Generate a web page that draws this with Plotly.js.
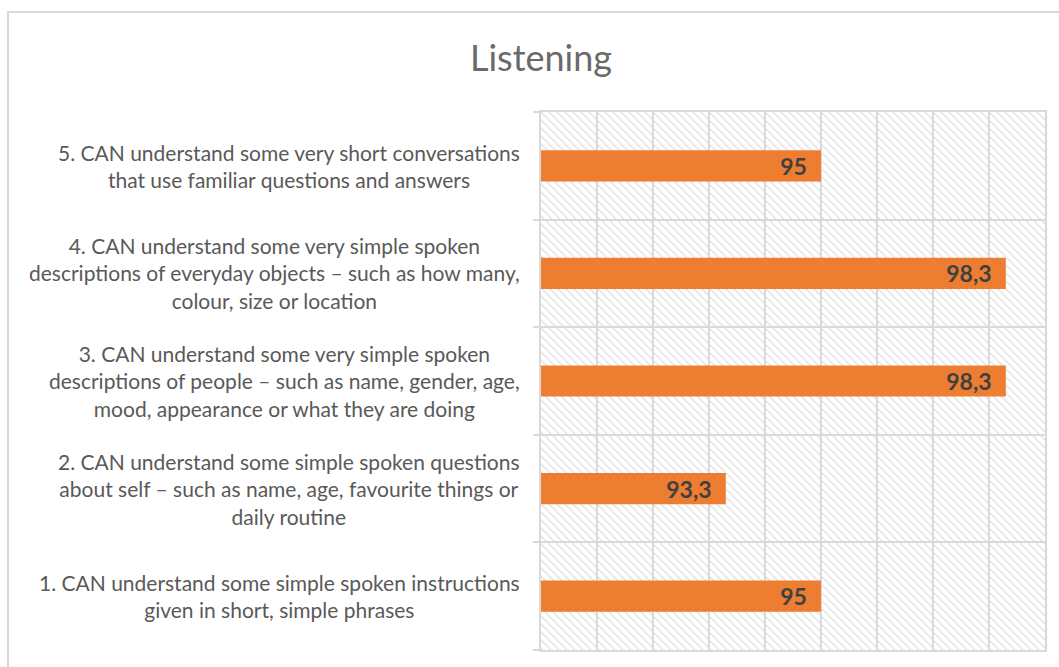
<!DOCTYPE html>
<html>
<head>
<meta charset="utf-8">
<script src="https://cdn.plot.ly/plotly-3.0.1.min.js"></script>
<style>
  html, body { margin: 0; padding: 0; background: #ffffff; }
  #wrap { position: relative; width: 1059px; height: 667px; overflow: hidden; }
  #chart { position: absolute; left: 0; top: 0; width: 1059px; height: 667px; }
  #frame { position: absolute; left: 7px; top: 11px; width: 1200px; height: 800px;
           border-left: 2px solid #d9d9d9; border-top: 2px solid #d9d9d9; pointer-events: none; }
</style>
</head>
<body>
<div id="wrap">
  <div id="chart"></div>
  <div id="frame"></div>
</div>
<script>
// ---- data ----
const chartTitle = "Listening";
const categories = ["c1", "c2", "c3", "c4", "c5"];
const categoryLabels = [
  "1. CAN understand some simple spoken instructions<br>given in short, simple phrases",
  "2. CAN understand some simple spoken questions<br>about self \u2013 such as name, age, favourite things or<br>daily routine",
  "3. CAN understand some very simple spoken<br>descriptions of people \u2013 such as name, gender, age,<br>mood, appearance or what they are doing",
  "4. CAN understand some very simple spoken<br>descriptions of everyday objects \u2013 such as how many,<br>colour, size or location",
  "5. CAN understand some very short conversations<br>that use familiar questions and answers"
];
const values = [95, 93.3, 98.3, 98.3, 95];
const xRange = [90, 99];

// ---- styling ----
const W = 1059, H = 667;
const FONT = 'Lato, Carlito, Calibri, sans-serif';
const margin = { l: 541, r: 14, t: 112, b: 17, pad: 0 };
const plotW = W - margin.l - margin.r;
const plotH = H - margin.t - margin.b;

const hatchSvg =
  '<svg xmlns="http://www.w3.org/2000/svg" width="' + plotW + '" height="' + plotH + '">' +
  '<defs><pattern id="p" width="8" height="8" patternUnits="userSpaceOnUse">' +
  '<path d="M-2,-2 L10,10 M-2,6 L2,10 M6,-2 L10,2" stroke="#e0e0e0" stroke-width="1.3"/>' +
  '</pattern></defs>' +
  '<rect width="100%" height="100%" fill="#ffffff"/>' +
  '<rect width="100%" height="100%" fill="url(#p)"/></svg>';
const hatchUri = 'data:image/svg+xml;charset=utf-8,' + encodeURIComponent(hatchSvg);

const labelText = values.map(v => String(v).replace('.', ',') + '\u00a0\u00a0');

const trace = {
  type: 'bar',
  orientation: 'h',
  y: categories,
  x: values,
  base: 0,
  marker: { color: '#ED7D31', line: { width: 0 } },
  text: labelText,
  textposition: 'inside',
  insidetextanchor: 'end',
  textangle: 0,
  constraintext: 'none',
  insidetextfont: { family: FONT, size: 23, color: '#404040', weight: 'bold' },
  hoverinfo: 'skip',
  cliponaxis: true
};

const annotations = categories.map((c, i) => ({
  xref: 'paper', yref: 'y',
  x: 0, y: c,
  xanchor: 'right', yanchor: 'middle',
  xshift: -19,
  align: 'center',
  showarrow: false,
  text: categoryLabels[i],
  font: { family: FONT, size: 21, color: '#595959' }
}));

const layout = {
  width: W, height: H,
  margin: margin,
  paper_bgcolor: 'rgba(0,0,0,0)',
  plot_bgcolor: 'rgba(0,0,0,0)',
  showlegend: false,
  bargap: 0.71,
  title: {
    text: chartTitle,
    xref: 'container', yref: 'container',
    x: 541 / W, xanchor: 'center',
    y: 1 - 58 / H, yanchor: 'middle',
    font: { family: FONT, size: 36, color: '#6a6a6a' }
  },
  xaxis: {
    range: xRange,
    dtick: 1,
    showticklabels: false,
    showgrid: true,
    gridcolor: '#d9d9d9',
    gridwidth: 2,
    zeroline: false,
    showline: true,
    linecolor: '#d9d9d9',
    linewidth: 2,
    mirror: true,
    ticks: '',
    fixedrange: true
  },
  yaxis: {
    type: 'category',
    categoryorder: 'array',
    categoryarray: categories,
    showticklabels: false,
    tickson: 'boundaries',
    ticks: 'outside',
    ticklen: 6,
    tickwidth: 2,
    tickcolor: '#d9d9d9',
    showgrid: true,
    gridcolor: '#d9d9d9',
    gridwidth: 2,
    showline: true,
    linecolor: '#d9d9d9',
    linewidth: 2,
    mirror: true,
    zeroline: false,
    fixedrange: true
  },
  images: [{
    source: hatchUri,
    xref: 'paper', yref: 'paper',
    x: 0, y: 1, sizex: 1, sizey: 1,
    xanchor: 'left', yanchor: 'top',
    sizing: 'stretch',
    layer: 'below'
  }],
  annotations: annotations,
  font: { family: FONT, color: '#595959' }
};

Plotly.newPlot('chart', [trace], layout, { displayModeBar: false, staticPlot: true });
</script>
</body>
</html>
